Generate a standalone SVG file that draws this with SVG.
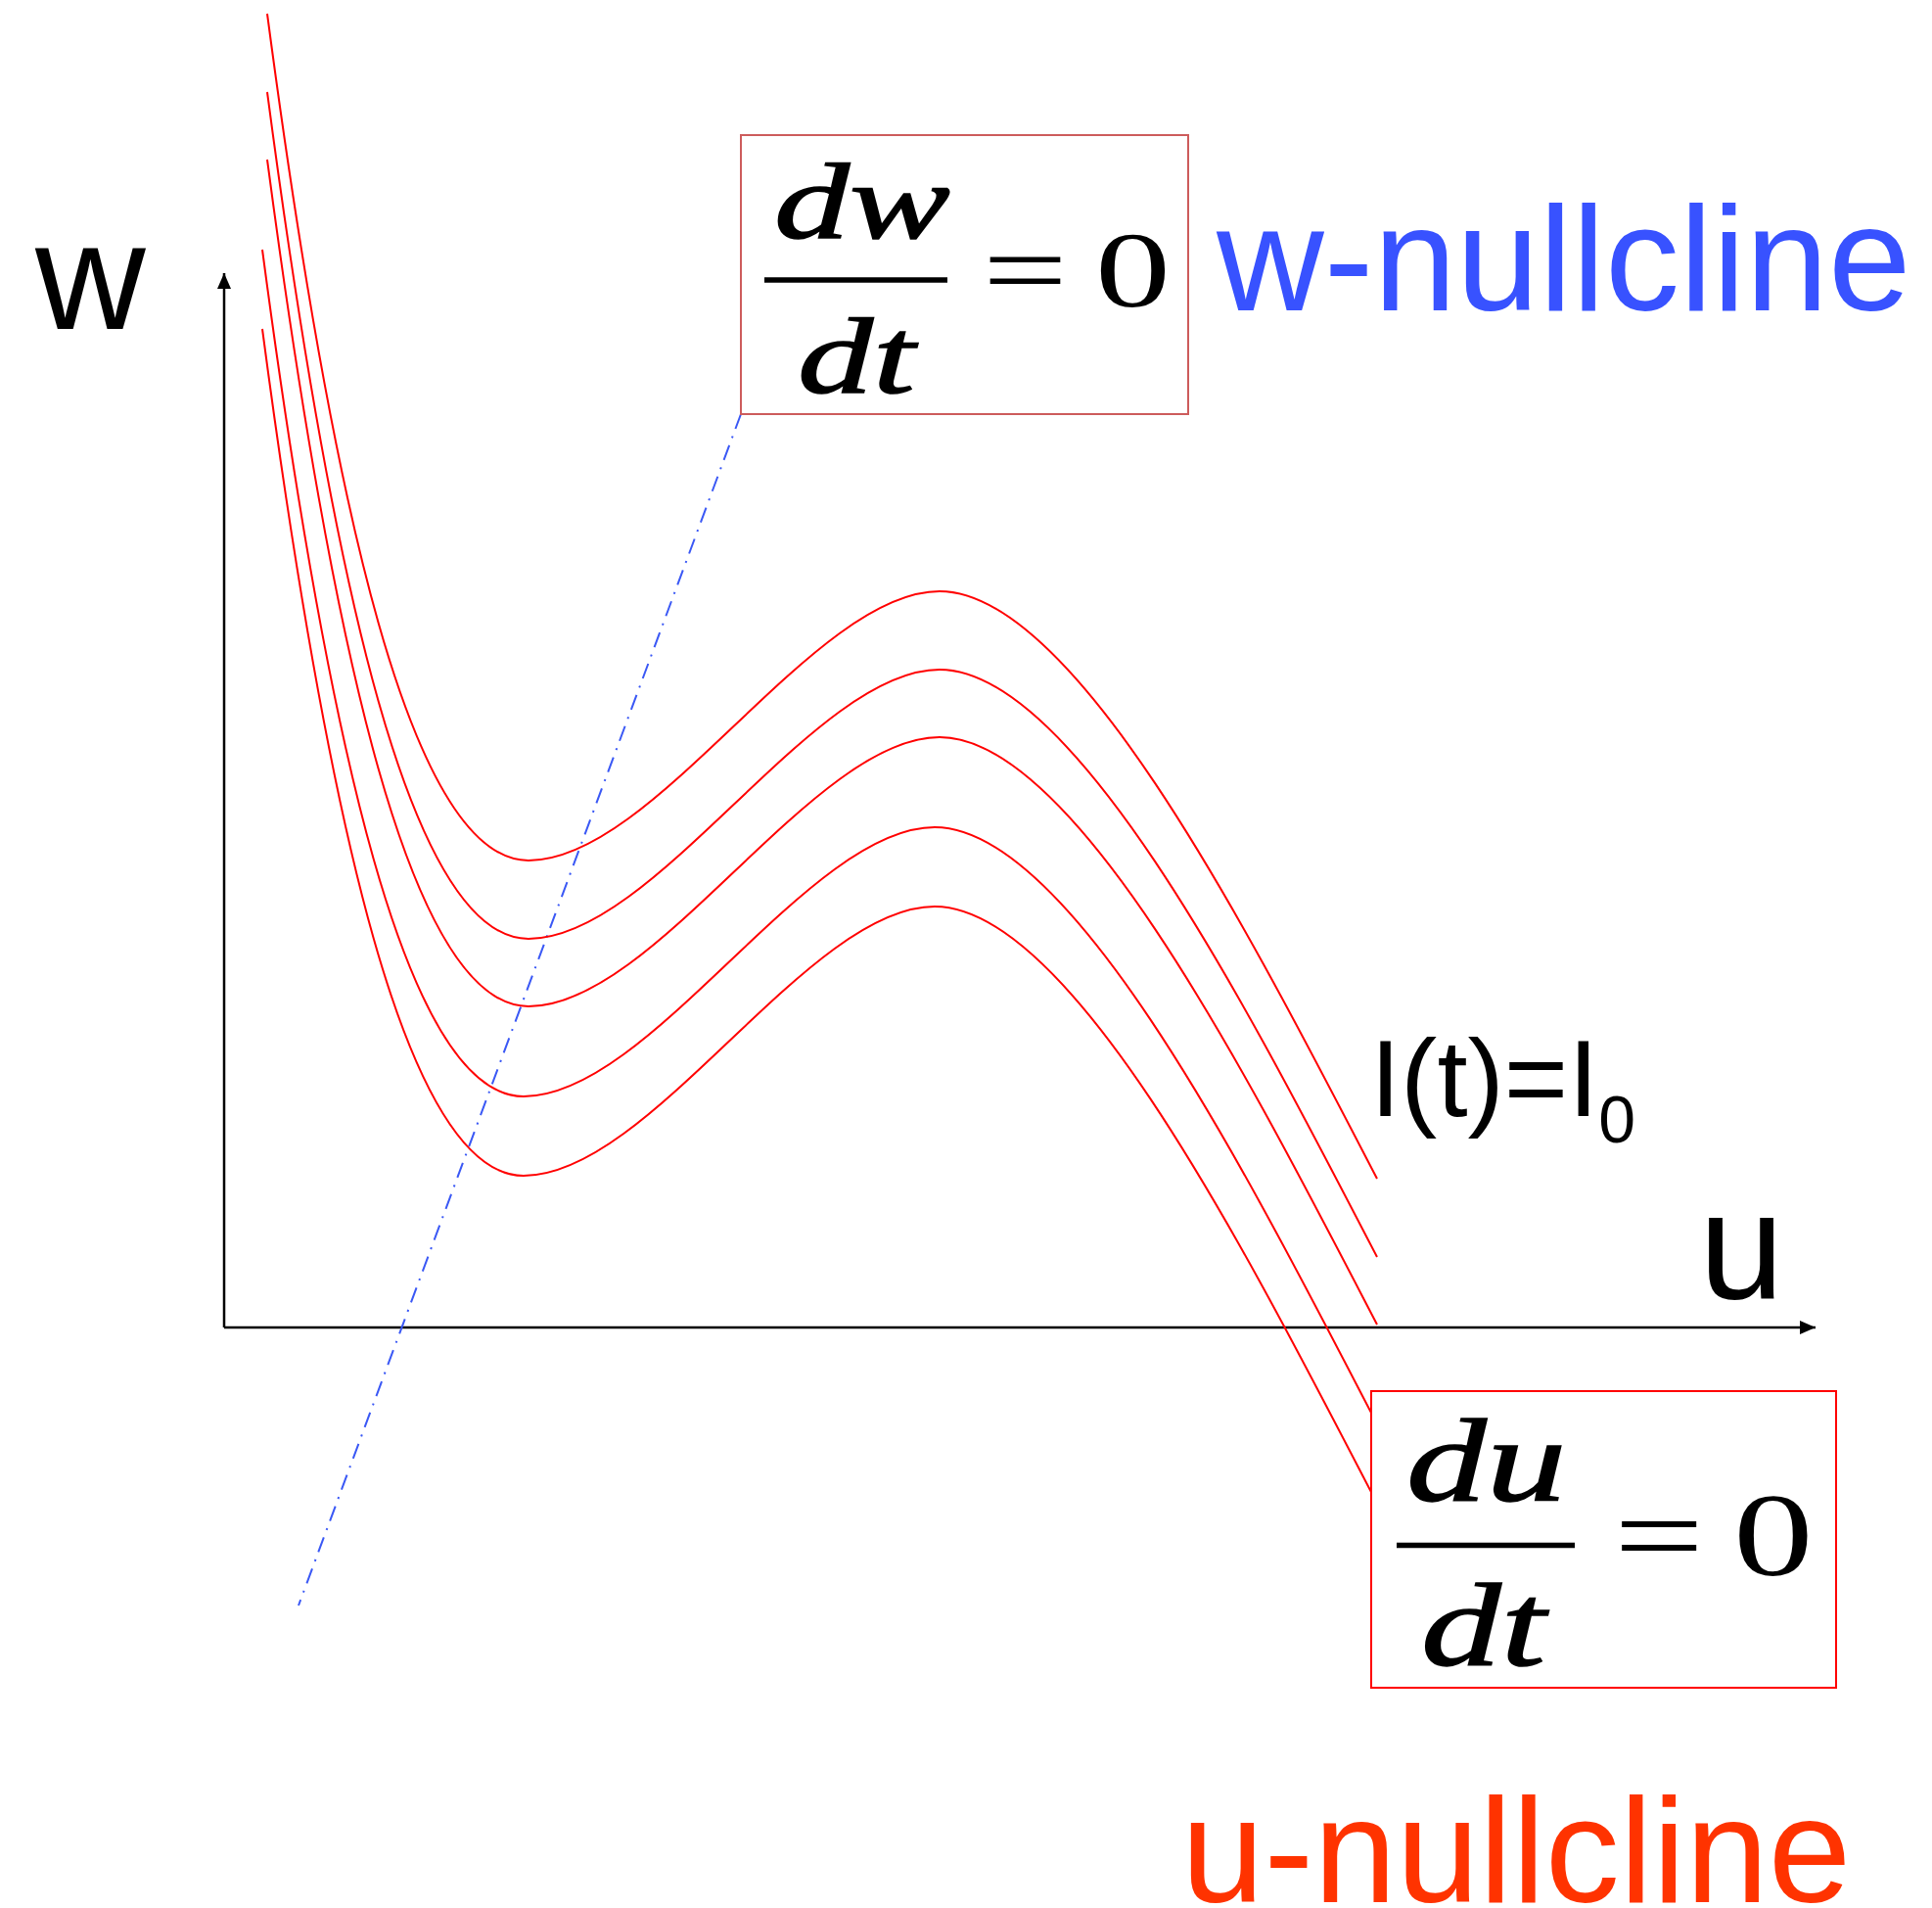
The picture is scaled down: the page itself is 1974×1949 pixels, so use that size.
<svg xmlns="http://www.w3.org/2000/svg" width="1974" height="1949" viewBox="0 0 1974 1949">
<style>
  .sans { font-family: "Liberation Sans", Arial, sans-serif; }
  .math { font-family: "Liberation Serif", "Times New Roman", serif; font-style: italic; fill: #000; stroke: #000; stroke-width: 1.5; }
  .mathup { font-family: "Liberation Serif", "Times New Roman", serif; fill: #000; }
  .ucurve { fill: none; stroke: #FF0000; stroke-width: 2; }
  .axis { fill: none; stroke: #000; stroke-width: 2.5; }
  .bar { stroke: #000; stroke-width: 5.5; }
</style>
<defs>
  <marker id="arrow" viewBox="0 0 16 14" refX="16" refY="7" markerWidth="16" markerHeight="14" markerUnits="userSpaceOnUse" orient="auto">
    <path d="M0,0 L16,7 L0,14 z" fill="#000"/>
  </marker>
  <path id="ucurve-base" d="M273,14 C340,520 420,879 540,879 C670,879 830,604 960,604 C1100,604 1280,960 1407,1204"/>
</defs>
<rect x="0" y="0" width="1974" height="1949" fill="#fff"/>

<g id="connectors">
  <line id="w-axis" class="axis" x1="229" y1="1356" x2="229" y2="279" marker-end="url(#arrow)"/>
  <line id="u-axis" class="axis" x1="229" y1="1356" x2="1855" y2="1356" marker-end="url(#arrow)"/>
  <line id="w-nullcline-line" x1="757" y1="423" x2="305" y2="1640" stroke="#3A58F5" stroke-width="2" stroke-dasharray="16 8 2 8"/>
</g>

<g id="u-nullclines">
  <use href="#ucurve-base" class="ucurve"/>
  <use href="#ucurve-base" class="ucurve" transform="translate(0,80)"/>
  <use href="#ucurve-base" class="ucurve" transform="translate(0,149)"/>
  <use href="#ucurve-base" class="ucurve" transform="translate(-5,241)"/>
  <use href="#ucurve-base" class="ucurve" transform="translate(-5,322)"/>
</g>

<g id="label-w">
  <text class="sans" x="36" y="336" font-size="156" fill="#000">w</text>
</g>
<g id="label-u">
  <text class="sans" x="1736" y="1326" font-size="156" fill="#000">u</text>
</g>
<g id="label-current">
  <text class="sans" x="1400" y="1140" font-size="112" fill="#000">I(t)=I<tspan font-size="68" y="1167">0</tspan></text>
</g>

<g id="box-dw">
  <rect x="757" y="138" width="457" height="285" fill="#fff" stroke="#CD5C5C" stroke-width="2"/>
  <text class="math" font-size="110" transform="translate(791,243) scale(1.4,1)">dw</text>
  <line class="bar" x1="781" y1="286" x2="968" y2="286"/>
  <text class="math" font-size="110" transform="translate(815,401) scale(1.4,1)">dt</text>
  <text class="mathup" font-size="110" transform="translate(1004,313) scale(1.4,1)">=</text>
  <text class="mathup" font-size="110" transform="translate(1119,313) scale(1.4,1)">0</text>
</g>
<g id="label-w-nullcline">
  <text class="sans" x="1243" y="317" font-size="152" fill="#3852FF">w-nullcline</text>
</g>

<g id="box-du">
  <rect x="1401" y="1421" width="475" height="303" fill="#fff" stroke="#FF0000" stroke-width="2"/>
  <text class="math" font-size="121" transform="translate(1437,1533) scale(1.35,1)">du</text>
  <line class="bar" x1="1427" y1="1578.5" x2="1609" y2="1578.5"/>
  <text class="math" font-size="121" transform="translate(1452,1701) scale(1.35,1)">dt</text>
  <text class="mathup" font-size="121" transform="translate(1649,1609) scale(1.35,1)">=</text>
  <text class="mathup" font-size="121" transform="translate(1771,1609) scale(1.35,1)">0</text>
</g>
<g id="label-u-nullcline">
  <text class="sans" x="1207" y="1943" font-size="152" fill="#FF3300">u-nullcline</text>
</g>
</svg>
